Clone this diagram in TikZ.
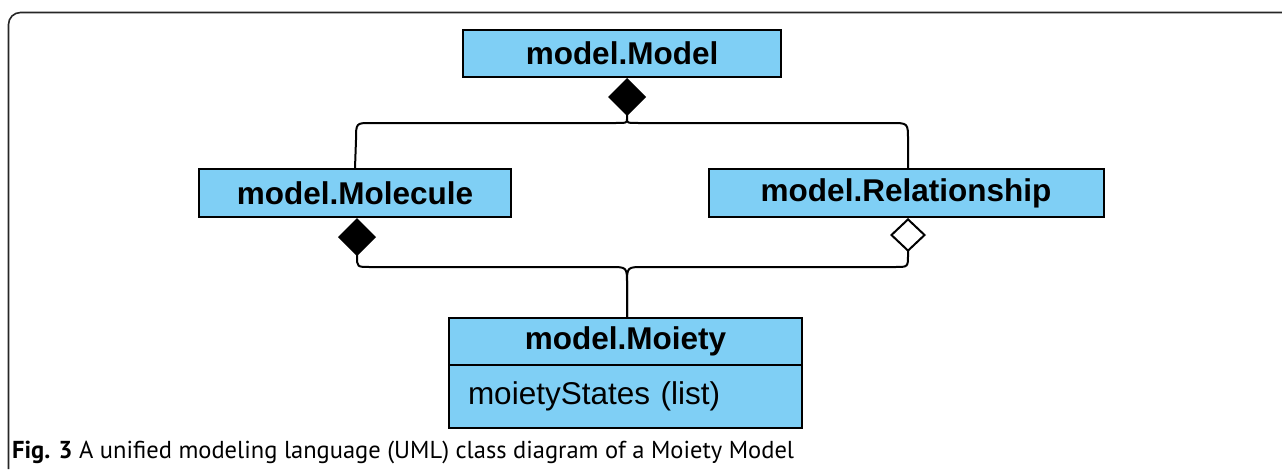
\documentclass[tikz,border=0pt]{standalone}
\usepackage{fontspec}
\setmainfont{Liberation Sans}
\newfontfamily\capfont{PT Sans}
\usetikzlibrary{arrows.meta,positioning}
\definecolor{clsfill}{RGB}{127,207,245}
\tikzset{
  cls/.style={draw=black, line width=2pt, fill=clsfill, inner sep=0pt,
    font=\fontsize{31.5}{37}\selectfont\bfseries},
  conn/.style={draw=black, line width=2pt},
  comp/.style={{Diamond[length=38pt,width=38pt,fill=black]}-},
  aggr/.style={{Diamond[length=34pt,width=36pt,open,fill=white]}-},
}
\begin{document}
\begin{tikzpicture}[x=1pt,y=1pt]
  \useasboundingbox (0,0) rectangle (1282,-469);
  % outer frame (top and left edges only)
  \draw[line width=1.6pt, rounded corners=12pt, black!85]
    (8.5,-469) -- (8.5,-12.5) -- (1282,-12.5);

  % classes
  \node[cls, minimum width=318, minimum height=47] (model) at (622,-53.5) {model.Model};
  \node[cls, minimum width=312, minimum height=48] (molecule) at (355,-193) {model.Molecule};
  \node[cls, minimum width=395, minimum height=48] (relationship) at (906,-193) {model.Relationship};
  \node[cls, minimum width=353, minimum height=47] (moiety) at (625.5,-341.5) {model.Moiety};
  \node[cls, minimum width=353, minimum height=63, below=-2pt of moiety,
        font=\fontsize{31.5}{37}\selectfont\mdseries, text width=315, align=left,
        inner xsep=19pt] (moietyattr) {moietyStates (list)};

  % composition: Model owns Molecule and Relationship
  \draw[conn, comp] ([xshift=5pt]model.south) -- (627,-119)
    .. controls (627,-123) .. (614,-123) -- (371,-123)
    .. controls (356,-123) .. (356,-140) -- (molecule.north);
  \draw[conn] (627,-119)
    .. controls (627,-123) .. (640,-123) -- (891,-123)
    .. controls (908,-123) .. (908,-140) -- ([xshift=2pt]relationship.north);

  % Molecule (composition) and Relationship (aggregation) to Moiety
  \draw[conn, comp] ([xshift=2pt]molecule.south) -- (357,-256)
    .. controls (357,-267) .. (370,-267) -- (610,-267)
    .. controls (627,-267) .. (627,-284) -- ([xshift=1.5pt]moiety.north);
  \draw[conn, aggr] ([xshift=2pt]relationship.south) -- (908,-255)
    .. controls (908,-267) .. (895,-267) -- (644,-267)
    .. controls (627,-267) .. (627,-284) -- ([xshift=1.5pt]moiety.north);

  % caption
  \node[anchor=base west, inner sep=0pt, font=\capfont\fontsize{24.5}{28}\selectfont]
    (caption) at (12,-458) {\textbf{Fig. 3} A unified modeling language (UML) class diagram of a Moiety Model};
\end{tikzpicture}
\end{document}
